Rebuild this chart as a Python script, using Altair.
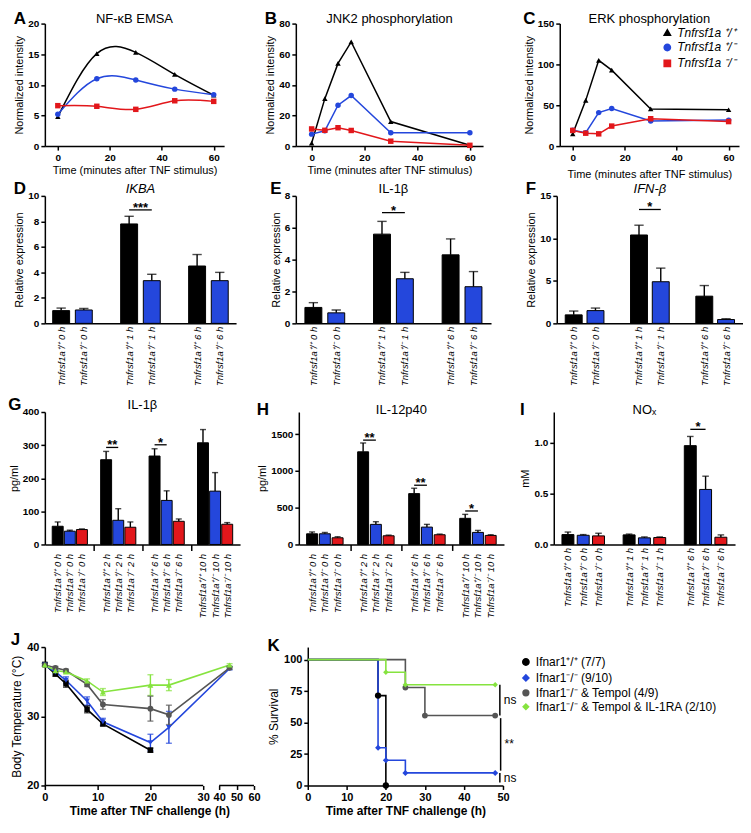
import altair as alt
import pandas as pd

FONT = "Liberation Sans"
BLACK = "#000000"
BLUE = "#2447dc"
RED = "#e2171b"
GREEN = "#86e33f"
GRAY = "#555555"

# ---------------- Row 1: time courses ----------------
geno_names = ["Tnfrsf1a ⁺/⁺", "Tnfrsf1a ⁺/⁻", "Tnfrsf1a ⁻/⁻"]
t_A = [0, 15, 30, 45, 60]
A_wt = [4.8, 15.1, 15.3, 11.7, 8.3]
A_het = [5.2, 11.0, 10.8, 9.3, 8.4]
A_ko = [6.6, 6.5, 6.0, 7.4, 7.3]

t_BC = [0, 5, 10, 15, 30, 60]
B_wt = [2.0, 31.0, 54.0, 68.0, 16.0, 0.5]
B_het = [7.8, 10.0, 26.7, 33.0, 8.7, 8.7]
B_ko = [11.2, 10.3, 12.0, 10.2, 3.2, 0.5]
C_wt = [15.0, 56.0, 105.0, 93.0, 45.5, 44.5]
C_het = [19.5, 16.5, 41.0, 46.0, 30.8, 31.8]
C_ko = [19.2, 15.8, 15.0, 24.5, 33.5, 30.0]

# ---------------- Row 2: qPCR ----------------
genos2 = ["⁺/⁺", "⁺/⁻"]
groups2 = ["0 h", "1 h", "6 h"]
D_vals = [[1.0, 7.8, 4.5], [1.05, 3.35, 3.35]]
D_errs = [[0.2, 0.6, 0.9], [0.12, 0.5, 0.65]]
E_vals = [[1.0, 5.6, 4.3], [0.66, 2.8, 2.3]]
E_errs = [[0.3, 0.8, 1.0], [0.18, 0.4, 0.95]]
F_vals = [[1.0, 10.4, 3.2], [1.5, 4.9, 0.45]]
F_errs = [[0.45, 1.15, 1.25], [0.3, 1.6, 0.1]]

# ---------------- Row 3: cytokines ----------------
genos3 = ["⁺/⁺", "⁺/⁻", "⁻/⁻"]
groups3 = ["0 h", "2 h", "6 h", "10 h"]
G_vals = [[55, 256, 267, 307], [40, 73, 133, 161], [45, 52, 70, 61]]
G_errs = [[13, 25, 22, 40], [3, 35, 29, 56], [2, 16, 7, 5]]
H_vals = [[145, 1259, 691, 355], [145, 273, 236, 164], [91, 118, 132, 123]]
H_errs = [[25, 120, 73, 54], [18, 36, 37, 27], [14, 9, 9, 9]]
groupsI = ["0 h", "1 h", "6 h"]
I_vals = [[0.097, 0.094, 0.97], [0.09, 0.065, 0.54], [0.084, 0.068, 0.071]]
I_errs = [[0.025, 0.008, 0.09], [0.007, 0.009, 0.13], [0.026, 0.006, 0.023]]

# ---------------- Row 4 ----------------
k_names = ["Ifnar1⁺/⁺ (7/7)", "Ifnar1⁻/⁻ (9/10)", "Ifnar1⁻/⁻ & Tempol (4/9)",
           "Ifnar1⁻/⁻ & Tempol & IL-1RA (2/10)"]
k_colors = [BLACK, BLUE, GRAY, GREEN]
J_t_wt = [0, 2, 4, 8, 11, 20]
J_wt = [37.5, 36.1, 34.7, 31.0, 28.9, 25.1]
J_wt_e = [0.2, 0.3, 0.5, 0.5, 0.3, 0.3]
J_t = [0, 2, 4, 8, 11, 20, 23.5, 46]
J_ko = [37.4, 36.4, 35.2, 32.2, 29.2, 26.2, 28.4, 36.9]
J_ko_e = [0.2, 0.3, 0.5, 0.6, 0.5, 1.2, 2.3, 0.2]
J_tp = [37.4, 37.0, 36.6, 34.6, 31.7, 31.1, 30.2, 37.0]
J_tp_e = [0.2, 0.2, 0.2, 0.3, 0.7, 1.8, 1.4, 0.2]
J_ra = [37.4, 36.6, 36.4, 35.1, 33.5, 34.5, 34.5, 37.4]
J_ra_e = [0.2, 0.2, 0.2, 0.3, 0.5, 1.5, 0.8, 0.2]
J_axis_start = [0, 40]
J_axis_end = [30, 60]

K_t = [[0, 18, 20], [0, 18, 20, 25, 48], [0, 25, 30, 48], [0, 20, 25, 48]]
K_s = [[100, 71.4, 0], [100, 30, 20, 10, 10], [100, 77.8, 55.6, 55.6], [100, 90, 80, 80]]
K_sig_x = [49.2, 49.4, 49.2]
K_sig_y0 = [80, 53.5, 10]
K_sig_y1 = [55.6, 11.8, 2.4]
K_sig_txt = ["ns", "**", "ns"]

IND = dict(color="independent", shape="independent", size="independent")


def titled(chart, letter, off=-15):
    return alt.VConcatChart(vconcat=[chart]).properties(
        title=alt.Title(letter, anchor="start", frame="bounds", fontSize=17,
                        fontWeight="bold", offset=off)).resolve_scale(**IND)


def line_panel(times, series, title, ydom, yvals, xdom, w, h, interp,
               show_legend=False, xtitle_pad=3):
    rows = [dict(t=t, v=v, g=g) for g, vals in zip(geno_names, series)
            for t, v in zip(times, vals)]
    df = pd.DataFrame(rows)
    leg = None
    if show_legend:
        leg = alt.Legend(title=None, orient="none", legendX=102, legendY=3,
                         labelFontStyle="italic", labelFontSize=12,
                         labelFontWeight="normal", symbolSize=40, rowPadding=2,
                         labelFont=FONT)
    color = alt.Color("g:N", scale=alt.Scale(domain=geno_names, range=[BLACK, BLUE, RED]),
                      legend=leg)
    shape = alt.Shape("g:N", scale=alt.Scale(domain=geno_names,
                                             range=["triangle-up", "circle", "square"]),
                      legend=leg)
    x = alt.X("t:Q", scale=alt.Scale(domain=xdom, nice=False, zero=False),
              axis=alt.Axis(values=[0, 20, 40, 60], title="Time (minutes after TNF stimulus)",
                            titlePadding=xtitle_pad))
    y = alt.Y("v:Q", scale=alt.Scale(domain=ydom, nice=False),
              axis=alt.Axis(values=yvals, title="Normalized intensity"))
    base = alt.Chart(df)
    lines = base.mark_line(interpolate=interp, strokeWidth=1.5).encode(x=x, y=y, color=color)
    pts = base.mark_point(filled=True, size=30, opacity=1).encode(x=x, y=y, color=color,
                                                                  shape=shape)
    return alt.layer(lines, pts).properties(
        width=w, height=h, title=alt.Title(title, fontSize=13, offset=-7))


def bar_panel(groups, genos, colors, vals, errs, title, italic, ytitle, ydom, yvals,
              w, h, barw, sigs, gap_ticks, pad, yfmt="d", label_size=9.5):
    k = len(genos)
    rows = []
    labels = {}
    for gi, g in enumerate(groups):
        for ki, gen in enumerate(genos):
            s = gi * (k + 1) + ki
            rows.append(dict(s=s, v=vals[ki][gi], top=vals[ki][gi] + errs[ki][gi], geno=gen))
            labels[s] = "Tnfrsf1a" + gen + " " + g
    n = len(groups) * (k + 1) - 1
    lab_arr = "[" + ",".join("'" + labels.get(i, "") + "'" for i in range(n)) + "]"
    gaps = [i for i in range(n) if i not in labels]
    df = pd.DataFrame(rows)
    axis_kw = dict(values=list(range(n)), labelExpr=lab_arr + "[datum.value]",
                   labelAngle=-90, labelFontStyle="italic", labelFontWeight="normal",
                   labelFontSize=label_size, title=None, labelOverlap=False,
                   labelPadding=3)
    if gap_ticks:
        axis_kw["ticks"] = True
        axis_kw["tickSize"] = 6
        axis_kw["tickOpacity"] = {"condition": {"test": "indexof(" + str(gaps) + ", datum.value) >= 0",
                                                "value": 1}, "value": 0}
    else:
        axis_kw["ticks"] = False
    xscale = alt.Scale(domain=[-pad, n - 1 + pad], nice=False, zero=False)
    xaxis = alt.Axis(**axis_kw)
    yscale = alt.Scale(domain=ydom, nice=False)
    yaxis = alt.Axis(values=yvals, title=ytitle, format=yfmt, labelOverlap=False)

    def X(f):
        return alt.X(f, scale=xscale, axis=xaxis)

    def Y(f):
        return alt.Y(f, scale=yscale, axis=yaxis)

    base = alt.Chart(df)
    bars = base.mark_bar(width=barw, stroke="black", strokeWidth=1).encode(
        x=X("s:Q"), y=Y("v:Q"),
        color=alt.Color("geno:N", scale=alt.Scale(domain=genos, range=colors), legend=None))
    err = base.mark_rule(color="black", strokeWidth=1.4).encode(
        x=X("s:Q"), y=Y("v:Q"), y2="top:Q")
    cap = base.mark_tick(orient="horizontal", size=barw * 0.55, thickness=1.4,
                         color="black").encode(x=X("s:Q"), y=Y("top:Q"))
    sdf = pd.DataFrame([dict(a=a, b=b, lev=lev, txt=t, mid=(a + b) / 2)
                        for a, b, lev, t in sigs])
    sbase = alt.Chart(sdf)
    srule = sbase.mark_rule(color="black", strokeWidth=1.3).encode(
        x=X("a:Q"), x2="b:Q", y=Y("lev:Q"))
    stext = sbase.mark_text(fontSize=13, fontWeight="bold", baseline="alphabetic", dy=2,
                            font=FONT).encode(x=X("mid:Q"), y=Y("lev:Q"), text="txt:N")
    return alt.layer(err, cap, bars, srule, stext).properties(
        width=w, height=h,
        title=alt.Title(title, fontSize=13, fontStyle="italic" if italic else "normal",
                        offset=-5))


# ---- Row 1
A = line_panel(t_A, [A_wt, A_het, A_ko], "NF-κB EMSA", [0, 20], [0, 5, 10, 15, 20],
               [-5, 64], 180, 123, "natural")
B = line_panel(t_BC, [B_wt, B_het, B_ko], "JNK2 phosphorylation", [0, 80],
               [0, 20, 40, 60, 80], [-6, 65], 188, 123, "linear")
C = line_panel(t_BC, [C_wt, C_het, C_ko], "ERK phosphorylation", [0, 150],
               [0, 50, 100, 150], [-5, 64], 180, 123, "linear", show_legend=True,
               xtitle_pad=7)
row1 = alt.hconcat(titled(A, "A"), titled(B, "B"), titled(C, "C"), spacing=40).resolve_scale(**IND)

# ---- Row 2
D = bar_panel(groups2, genos2, [BLACK, BLUE], D_vals, D_errs, "IKBA", True,
              "Relative expression", [0, 10], [0, 2, 4, 6, 8, 10], 192, 128, 17,
              [(3, 4, 8.9, "***")], False, 0.5)
E = bar_panel(groups2, genos2, [BLACK, BLUE], E_vals, E_errs, "IL-1β", False,
              "Relative expression", [0, 8], [0, 2, 4, 6, 8], 196, 128, 17,
              [(3, 4, 6.95, "*")], False, 0.55)
F = bar_panel(groups2, genos2, [BLACK, BLUE], F_vals, F_errs, "IFN-β", True,
              "Relative expression", [0, 15], [0, 5, 10, 15], 187, 128, 17,
              [(3, 4, 13.4, "*")], False, 0.55)
row2 = alt.hconcat(titled(D, "D"), titled(E, "E"), titled(F, "F"), spacing=34).resolve_scale(**IND)

# ---- Row 3
G = bar_panel(groups3, genos3, [BLACK, BLUE, RED], G_vals, G_errs, "IL-1β", False,
              "pg/ml", [0, 400], [0, 100, 200, 300, 400], 196, 133, 11,
              [(4, 5, 293, "**"), (8, 9, 301, "*")], True, 0.65)
H = bar_panel(groups3, genos3, [BLACK, BLUE, RED], H_vals, H_errs, "IL-12p40", False,
              "pg/ml", [0, 1800], [0, 500, 1000, 1500], 206, 133, 11,
              [(4, 5, 1418, "**"), (8, 9, 805, "**"), (12, 13, 455, "*")], True, 0.65)
I = bar_panel(groupsI, genos3, [BLACK, BLUE, RED], I_vals, I_errs, "NOₓ", False,
              "mM", [0, 1.3], [0, 0.5, 1.0], 182, 133, 12,
              [(8, 9, 1.13, "*")], False, 0.6, yfmt=".1f")
row3 = alt.hconcat(titled(G, "G"), titled(H, "H"), titled(I, "I"), spacing=16).resolve_scale(**IND)

# ---- Row 4: J
j_rows = []
for name, ts, vs, es in [(k_names[0], J_t_wt, J_wt, J_wt_e), (k_names[1], J_t, J_ko, J_ko_e),
                         (k_names[2], J_t, J_tp, J_tp_e), (k_names[3], J_t, J_ra, J_ra_e)]:
    for t, v, e in zip(ts, vs, es):
        j_rows.append(dict(t=t, v=v, lo=v - e, hi=v + e, g=name))
jdf = pd.DataFrame(j_rows)
jxscale = alt.Scale(domain=[0, 30, 40, 60], range=[0, 159, 175, 210], nice=False, zero=False)
jxaxis = alt.Axis(values=[0, 10, 20, 30, 40, 50, 60], domain=False,
                  title="Time after TNF challenge (h)", titleFontWeight="bold",
                  titleFontSize=12, labelFontSize=11, labelOverlap=False)
jyscale = alt.Scale(domain=[20, 40], nice=False, zero=False)
jyaxis = alt.Axis(values=[20, 25, 30, 35, 40], title="Body Temperature (°C)",
                  titleFontSize=12, labelFontSize=11, labelOverlap=False)


def JX(f):
    return alt.X(f, scale=jxscale, axis=jxaxis)


def JY(f):
    return alt.Y(f, scale=jyscale, axis=jyaxis)


jcol = alt.Color("g:N", scale=alt.Scale(domain=k_names, range=k_colors), legend=None)
jbase = alt.Chart(jdf)
j_line = jbase.mark_line(strokeWidth=1.6).encode(x=JX("t:Q"), y=JY("v:Q"), color=jcol)
j_err = jbase.mark_rule(strokeWidth=1.4).encode(x=JX("t:Q"), y=JY("lo:Q"), y2="hi:Q",
                                                color=jcol)
j_cap1 = jbase.mark_tick(orient="horizontal", size=6, thickness=1.4).encode(
    x=JX("t:Q"), y=JY("lo:Q"), color=jcol)
j_cap2 = jbase.mark_tick(orient="horizontal", size=6, thickness=1.4).encode(
    x=JX("t:Q"), y=JY("hi:Q"), color=jcol)
j_pts = jbase.mark_point(filled=True, opacity=1).encode(
    x=JX("t:Q"), y=JY("v:Q"), color=jcol,
    shape=alt.Shape("g:N", scale=alt.Scale(domain=k_names,
                                           range=["square", "triangle-down", "circle",
                                                  "triangle-up"]), legend=None),
    size=alt.Size("g:N", scale=alt.Scale(domain=k_names, range=[30, 35, 70, 40]),
                  legend=None))
segdf = pd.DataFrame({"x0": J_axis_start, "x1": J_axis_end})
j_axis = alt.Chart(segdf).mark_rule(color="black", strokeWidth=1.5).encode(
    x=JX("x0:Q"), x2="x1:Q", y=alt.datum(20))
J = alt.layer(j_axis, j_line, j_err, j_cap1, j_cap2, j_pts).properties(width=210, height=139)

# ---- Row 4: K
k_rows = []
for name, ts, ss in zip(k_names, K_t, K_s):
    for t, s in zip(ts, ss):
        k_rows.append(dict(t=t, s=s, g=name, mark=t > 0))
kdf = pd.DataFrame(k_rows)
kxscale = alt.Scale(domain=[0, 50], nice=False)
kxaxis = alt.Axis(values=[0, 10, 20, 30, 40, 50], title="Time after TNF challenge (h)",
                  titleFontWeight="bold", titleFontSize=12, labelFontSize=11,
                  labelOverlap=False)
kyscale = alt.Scale(domain=[0, 110], nice=False)
kyaxis = alt.Axis(values=[0, 25, 50, 75, 100], title="% Survival", titleFontSize=12,
                  labelFontSize=11, labelOverlap=False)


def KX(f):
    return alt.X(f, scale=kxscale, axis=kxaxis)


def KY(f):
    return alt.Y(f, scale=kyscale, axis=kyaxis)


kleg = alt.Legend(title=None, orient="right", offset=8, padding=9, labelFontSize=12,
                  labelFontWeight="normal", symbolSize=40, rowPadding=2, labelFont=FONT,
                  labelLimit=320)
kcol = alt.Color("g:N", scale=alt.Scale(domain=k_names, range=k_colors), legend=kleg)
kshape = alt.Shape("g:N", scale=alt.Scale(domain=k_names,
                                          range=["circle", "diamond", "circle", "diamond"]),
                   legend=kleg)
kbase = alt.Chart(kdf)
k_line = kbase.mark_line(interpolate="step-after", strokeWidth=1.6).encode(
    x=KX("t:Q"), y=KY("s:Q"), color=kcol)
k_pts = kbase.transform_filter("datum.mark").mark_point(filled=True, opacity=1).encode(
    x=KX("t:Q"), y=KY("s:Q"), color=kcol, shape=kshape,
    size=alt.Size("g:N", scale=alt.Scale(domain=k_names, range=[40, 30, 80, 30]),
                  legend=None))
ksig = pd.DataFrame({"x": K_sig_x, "y0": K_sig_y0, "y1": K_sig_y1, "txt": K_sig_txt})
ksig["ym"] = (ksig["y0"] + ksig["y1"]) / 2
k_srule = alt.Chart(ksig).mark_rule(color="black", strokeWidth=1.5).encode(
    x=KX("x:Q"), y=KY("y0:Q"), y2="y1:Q")
k_stext = alt.Chart(ksig).mark_text(align="left", baseline="middle", dx=4, fontSize=12,
                                    font=FONT).encode(x=KX("x:Q"), y=KY("ym:Q"), text="txt:N")
K = alt.layer(k_line, k_pts, k_srule, k_stext).properties(width=196, height=139)

row4 = alt.hconcat(titled(J, "J", -8), titled(K, "K", -8), spacing=6).resolve_scale(**IND)

top2 = alt.vconcat(row1, row2, spacing=0).resolve_scale(**IND)
bottom2 = alt.vconcat(row3, row4, spacing=13).resolve_scale(**IND)
chart = alt.vconcat(top2, bottom2, spacing=10).resolve_scale(**IND).properties(
    padding=0).configure(font=FONT).configure_view(stroke=None).configure_axis(
    domainColor="black", domainWidth=1.5, tickColor="black", tickWidth=1.5, tickSize=4,
    labelFont=FONT, labelFontSize=10, labelFontWeight="bold", labelColor="black",
    titleFont=FONT, titleFontSize=11, titleFontWeight="normal", titleColor="black",
    grid=False, labelFlush=False, labelPadding=2, titlePadding=3
).configure_title(font=FONT, color="black", fontWeight="normal", fontSize=13).configure_legend(
    labelFont=FONT, labelColor="black")

chart.save("out.html", embed_options={"renderer": "svg", "actions": False})
